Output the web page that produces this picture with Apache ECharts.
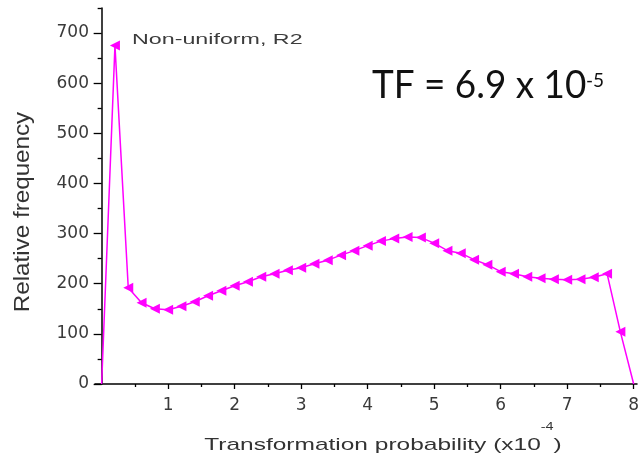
<!DOCTYPE html>
<html>
<head>
<meta charset="utf-8">
<script src="https://cdn.jsdelivr.net/npm/echarts@6/dist/echarts.min.js"></script>
<style>
  html, body { margin: 0; padding: 0; background: #fff; }
  #chart { width: 644px; height: 459px; }
</style>
</head>
<body>
<div id="chart"></div>
<script>
// ---- data ----
const xValues = [0, 0.2, 0.4, 0.6, 0.8, 1.0, 1.2, 1.4, 1.6, 1.8, 2.0, 2.2, 2.4, 2.6, 2.8, 3.0,
                 3.2, 3.4, 3.6, 3.8, 4.0, 4.2, 4.4, 4.6, 4.8, 5.0, 5.2, 5.4, 5.6, 5.8, 6.0,
                 6.2, 6.4, 6.6, 6.8, 7.0, 7.2, 7.4, 7.6, 7.8, 8.0];
const freqValues = [0, 675, 192, 162, 150, 148, 155, 164, 176, 186, 196, 204, 214, 220, 227, 232,
                    240, 247, 257, 266, 276, 285, 290, 293, 292, 281, 266, 261, 248, 238, 224,
                    220, 214, 211, 209, 208, 209, 213, 220, 104, 0];
const xMajorTicks = [1, 2, 3, 4, 5, 6, 7, 8];
const xMinorTicks = [0.5, 1.5, 2.5, 3.5, 4.5, 5.5, 6.5, 7.5];
const yMajorTicks = [0, 100, 200, 300, 400, 500, 600, 700];
const yMinorTicks = [50, 150, 250, 350, 450, 550, 650, 750];
const seriesLabel = 'Non-uniform, R2';
const xTitle = 'Transformation probability (x10';
const xTitleExp = '-4';
const yTitle = 'Relative frequency';
const tfText = 'TF = 6.9 x 10';
const tfExp = '-5';

// ---- chart ----
const chart = echarts.init(document.getElementById('chart'), null, { renderer: 'canvas' });

const seriesData = xValues.map((x, i) => {
  const item = { value: [x, freqValues[i]] };
  if (i === 0 || i === xValues.length - 1) item.symbol = 'none';
  return item;
});

const tickFont = { fontFamily: 'DejaVu Sans', fontSize: 17, color: '#3a3a3a' };
const axisBlack = { color: '#000', width: 1.5 };

const option = {
  animation: false,
  backgroundColor: '#fff',
  grid: { left: 95, right: 7, top: 8, bottom: 75, containLabel: false, outerBoundsMode: 'none' },
  xAxis: [
    {
      type: 'value', min: -0.1, max: 8.05, position: 'bottom',
      axisLine: { show: true, onZero: false, lineStyle: axisBlack },
      axisTick: { show: true, customValues: xMinorTicks, length: 3, lineStyle: { color: '#000', width: 1.3 } },
      axisLabel: { show: false },
      splitLine: { show: false }
    },
    {
      type: 'value', min: -0.1, max: 8.05, position: 'bottom',
      axisLine: { show: false, onZero: false },
      axisTick: { show: true, customValues: xMajorTicks, length: 5, lineStyle: { color: '#000', width: 1.3 } },
      axisLabel: Object.assign({ show: true, customValues: xMajorTicks, margin: 13 }, tickFont),
      splitLine: { show: false }
    }
  ],
  yAxis: [
    {
      type: 'value', min: 0, max: 750, position: 'left',
      axisLine: { show: true, onZero: true, onZeroAxisIndex: 0, lineStyle: axisBlack },
      axisTick: { show: true, customValues: yMinorTicks, length: 4, lineStyle: { color: '#000', width: 1.3 } },
      axisLabel: { show: false },
      splitLine: { show: false }
    },
    {
      type: 'value', min: 0, max: 750, position: 'left',
      axisLine: { show: false, onZero: true, onZeroAxisIndex: 0 },
      axisTick: { show: true, customValues: yMajorTicks, length: 8, lineStyle: { color: '#000', width: 1.3 } },
      axisLabel: Object.assign({ show: true, customValues: yMajorTicks, margin: 6 }, tickFont),
      splitLine: { show: false }
    }
  ],
  series: [
    {
      name: seriesLabel,
      type: 'line',
      xAxisIndex: 0,
      yAxisIndex: 0,
      data: seriesData,
      symbol: 'triangle',
      symbolRotate: 90,
      symbolSize: 10,
      showAllSymbol: true,
      itemStyle: { color: '#ff00ff' },
      lineStyle: { color: '#ff00ff', width: 1.5 },
      clip: false
    }
  ],
  graphic: [
    {
      type: 'text', silent: true, x: 132, y: 40, scaleX: 1.55,
      style: { text: seriesLabel, fill: '#3c3c3c', fontFamily: 'Liberation Sans', fontSize: 15,
               textAlign: 'left', textVerticalAlign: 'middle' }
    },
    {
      type: 'text', silent: true, x: 383, y: 445.5, scaleX: 1.44,
      style: {
        text: '{a|' + xTitle + '}{s|' + xTitleExp + '}{a|)}',
        textAlign: 'center', textVerticalAlign: 'middle',
        rich: {
          a: { fill: '#333', fontFamily: 'Liberation Sans', fontSize: 17, lineHeight: 46 },
          s: { fill: '#333', fontFamily: 'Liberation Sans', fontSize: 10, lineHeight: 10, verticalAlign: 'top' }
        }
      }
    },
    {
      type: 'text', silent: true, x: 23, y: 212, rotation: Math.PI / 2, scaleX: 1.1,
      style: { text: yTitle, fill: '#333', fontFamily: 'Liberation Sans', fontSize: 22,
               textAlign: 'center', textVerticalAlign: 'middle' }
    },
    {
      type: 'text', silent: true, x: 372, y: 86, scaleX: 0.97,
      style: { text: tfText, fill: '#111', fontFamily: 'Lato', fontSize: 38,
               textAlign: 'left', textVerticalAlign: 'middle' }
    },
    {
      type: 'text', silent: true, x: 586, y: 80.6,
      style: { text: tfExp, fill: '#111', fontFamily: 'Lato', fontSize: 19,
               textAlign: 'left', textVerticalAlign: 'middle' }
    }
  ]
};

chart.setOption(option);
</script>
</body>
</html>
